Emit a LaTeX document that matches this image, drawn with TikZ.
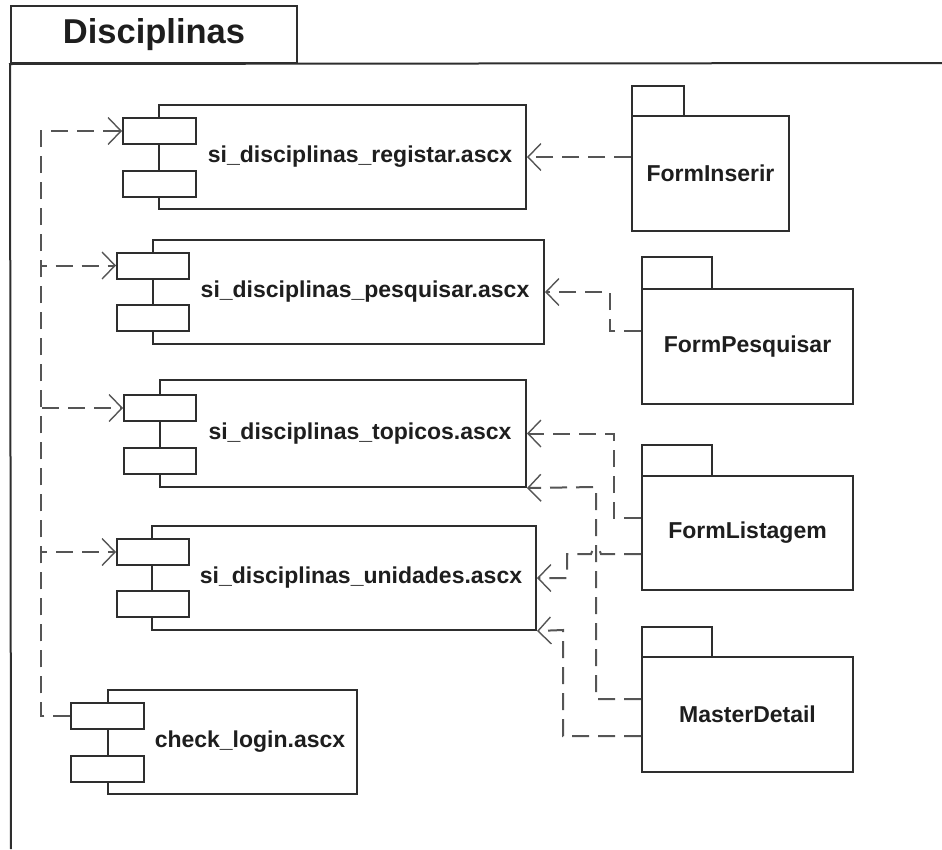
\documentclass[tikz,border=0pt]{standalone}
\usepackage{fontspec}
\setmainfont{Liberation Sans}
\usetikzlibrary{arrows.meta}
\definecolor{edgec}{HTML}{2E2E2E}
\definecolor{dashc}{HTML}{555555}
\definecolor{textc}{HTML}{1E1E1E}
\tikzset{
  box/.style={draw=edgec, line width=2pt, fill=white, inner sep=0pt},
  frameline/.style={draw=edgec, line width=2pt},
  dep/.style={draw=dashc, line width=2pt, dash pattern=on 17pt off 9pt,
    -{Straight Barb[length=13pt,width=27pt,line width=1.4pt]}},
  lbl/.style={font=\fontsize{23}{27}\selectfont\bfseries, text=textc, inner sep=0pt},
  ttl/.style={font=\fontsize{34.5}{40}\selectfont\bfseries, text=textc},
}
\begin{document}
\begin{tikzpicture}[x=1pt,y=-1pt]
\useasboundingbox (0,0) rectangle (942,849);

% outer package frame
\node[box, minimum width=286pt, minimum height=57pt, ttl] (pkg) at (154,34.5) {Disciplinas};
\draw[frameline] (942,63) -- (pkg.south west) -- (11,849);

% component boxes: main body, two ports, label
\node[box, minimum width=367pt, minimum height=104pt] (reg) at (342.5,157) {};
\node[box, minimum width=73pt, minimum height=26pt] (reg1) at (159.5,131) {};
\node[box, minimum width=73pt, minimum height=26pt] (reg2) at (159.5,184) {};
\node[lbl] (regL) at (360,157) {si\_disciplinas\_registar.ascx};

\node[box, minimum width=391pt, minimum height=104pt] (pes) at (348.5,292) {};
\node[box, minimum width=72pt, minimum height=26pt] (pes1) at (153,265.5) {};
\node[box, minimum width=72pt, minimum height=26pt] (pes2) at (153,318) {};
\node[lbl] (pesL) at (365,292) {si\_disciplinas\_pesquisar.ascx};

\node[box, minimum width=366pt, minimum height=107pt] (top) at (343,433.5) {};
\node[box, minimum width=72pt, minimum height=26pt] (top1) at (160,408) {};
\node[box, minimum width=72pt, minimum height=26pt] (top2) at (160,461) {};
\node[lbl] (topL) at (360,433.5) {si\_disciplinas\_topicos.ascx};

\node[box, minimum width=384pt, minimum height=104pt] (uni) at (344,578) {};
\node[box, minimum width=72pt, minimum height=26pt] (uni1) at (153,552) {};
\node[box, minimum width=72pt, minimum height=26pt] (uni2) at (153,604) {};
\node[lbl] (uniL) at (361,578) {si\_disciplinas\_unidades.ascx};

\node[box, minimum width=249pt, minimum height=104pt] (chk) at (232.5,742) {};
\node[box, minimum width=73pt, minimum height=26pt] (chk1) at (107.5,716) {};
\node[box, minimum width=73pt, minimum height=26pt] (chk2) at (107.5,768.5) {};
\node[lbl] (chkL) at (250,742) {check\_login.ascx};

% packages: tab, then body with name
\node[box, minimum width=52pt, minimum height=30pt] (fitab) at (658,101) {};
\node[box, minimum width=157pt, minimum height=115pt, lbl] (fi) at (710.5,173.5) {FormInserir};

\node[box, minimum width=70pt, minimum height=32pt] (fptab) at (677,273) {};
\node[box, minimum width=211pt, minimum height=115pt, lbl] (fp) at (747.5,346.5) {FormPesquisar};

\node[box, minimum width=70pt, minimum height=31pt] (fltab) at (677,460.5) {};
\node[box, minimum width=211pt, minimum height=114pt, lbl] (fl) at (747.5,533) {FormListagem};

\node[box, minimum width=70pt, minimum height=30pt] (mdtab) at (677,642) {};
\node[box, minimum width=211pt, minimum height=115pt, lbl] (md) at (747.5,714.5) {MasterDetail};

% check_login dependencies along the left bus
\coordinate (bus) at (41,0);
\foreach \t in {reg1,pes1,top1,uni1}
  \draw[dep] (chk1.west) -| (bus |- \t.west) -- (\t.west);

% package dependencies
\draw[dep] (fi.west |- reg.east) -- (reg.east);
\draw[dep] (fp.west |- 0,331) -| (610,292) -- (pes.east);
\draw[dep] (fl.west |- 0,518) -| (614,433.5) -- (top.east);
\draw[dep] (fl.west |- 0,554) -- (601,554) arc[start angle=0,end angle=180,radius=5pt] -| (567,578) -- (uni.east);
\draw[dep] (md.west |- 0,699) -| (596,487) -- (top.south east);
\draw[dep] (md.west |- 0,736) -| (563,630) -- (uni.south east);
\end{tikzpicture}
\end{document}
